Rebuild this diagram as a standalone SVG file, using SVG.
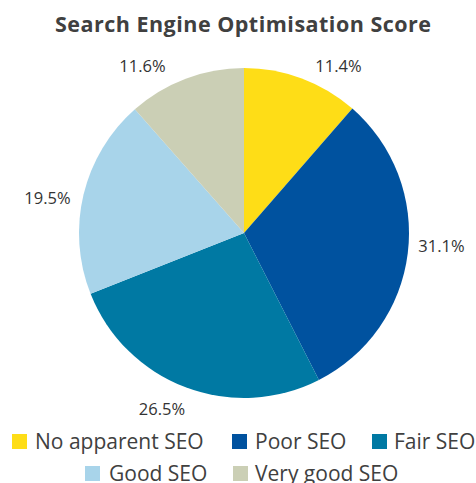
<svg xmlns="http://www.w3.org/2000/svg" width="476" height="483" viewBox="0 0 476 483">
  <style>
    .title { font-family: "Open Sans", "Liberation Sans", sans-serif; font-weight: bold; font-size: 21.5px; fill: #404040; }
    .pct { font-family: "Open Sans", "Liberation Sans", sans-serif; font-size: 16.5px; fill: #333333; }
    .leg { font-family: "Open Sans", "Liberation Sans", sans-serif; font-size: 21px; fill: #404040; }
  </style>
  <rect width="476" height="483" fill="#ffffff"/>
  <text class="title" x="55" y="32" textLength="376" lengthAdjust="spacing">Search Engine Optimisation Score</text>

  <!-- pie slices, clockwise from 12 o'clock -->
  <g id="slice-no-apparent">
    <path d="M244,233 L244,68 A165,165 0 0 1 352.36,108.57 Z" fill="#FEDD17"/>
  </g>
  <g id="slice-poor">
    <path d="M244,233 L352.36,108.57 A165,165 0 0 1 318.91,380.02 Z" fill="#00529F"/>
  </g>
  <g id="slice-fair">
    <path d="M244,233 L318.91,380.02 A165,165 0 0 1 90.58,293.74 Z" fill="#0079A3"/>
  </g>
  <g id="slice-good">
    <path d="M244,233 L90.58,293.74 A165,165 0 0 1 134.89,109.23 Z" fill="#A8D4EA"/>
  </g>
  <g id="slice-very-good">
    <path d="M244,233 L134.89,109.23 A165,165 0 0 1 244,68 Z" fill="#CBCFB5"/>
  </g>

  <!-- percentage labels -->
  <g id="labels">
    <text class="pct" x="338.5" y="72" text-anchor="middle">11.4%</text>
    <text class="pct" x="441.5" y="252" text-anchor="middle">31.1%</text>
    <text class="pct" x="162" y="415" text-anchor="middle">26.5%</text>
    <text class="pct" x="47.5" y="204" text-anchor="middle">19.5%</text>
    <text class="pct" x="142.5" y="72" text-anchor="middle">11.6%</text>
  </g>

  <!-- legend -->
  <g id="legend">
    <rect x="12" y="434" width="15" height="15" fill="#FEDD17"/>
    <text class="leg" x="35" y="449">No apparent SEO</text>
    <rect x="232" y="434" width="15" height="15" fill="#00529F"/>
    <text class="leg" x="255" y="449">Poor SEO</text>
    <rect x="372" y="434" width="15" height="15" fill="#0079A3"/>
    <text class="leg" x="394" y="449">Fair SEO</text>
    <rect x="85" y="466" width="15" height="15" fill="#A8D4EA"/>
    <text class="leg" x="109" y="481">Good SEO</text>
    <rect x="233" y="466" width="15" height="15" fill="#CBCFB5"/>
    <text class="leg" x="255" y="481">Very good SEO</text>
  </g>
</svg>
